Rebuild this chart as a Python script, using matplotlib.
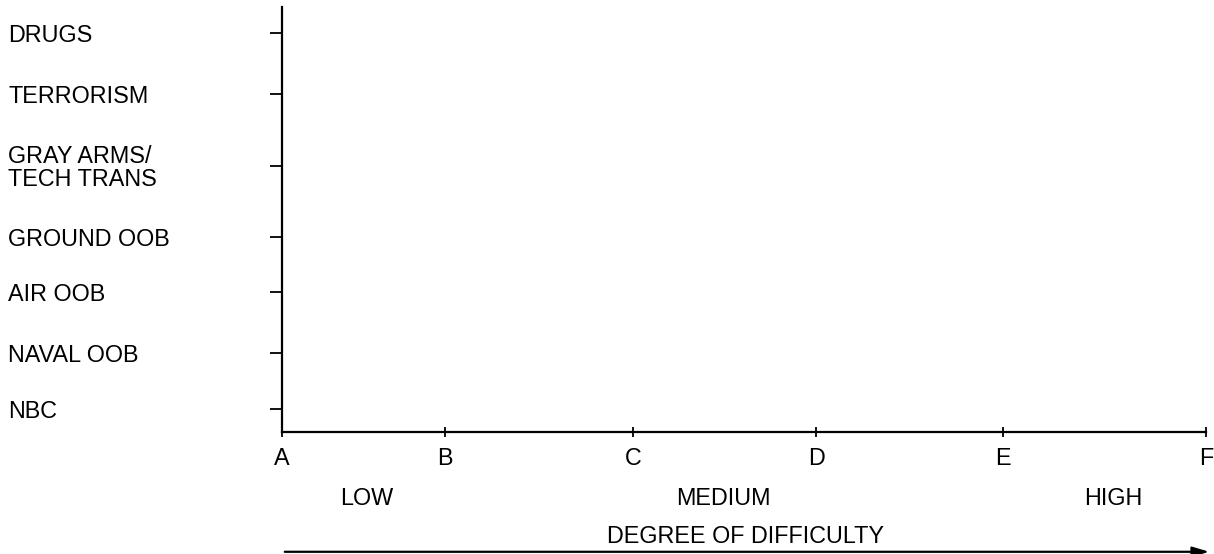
import matplotlib
matplotlib.use("Agg")
import matplotlib.pyplot as plt
from matplotlib.transforms import blended_transform_factory

plt.rcParams["font.family"] = ["Liberation Sans", "DejaVu Sans"]

# intelligence target categories, top to bottom, and where their ticks sit
categories = ["DRUGS", "TERRORISM", "GRAY ARMS/\nTECH TRANS", "GROUND OOB",
              "AIR OOB", "NAVAL OOB", "NBC"]
cat_pos = [399, 338, 266, 195, 140, 79, 23]

# difficulty scale
levels = ["A", "B", "C", "D", "E", "F"]
level_pos = [0, 0.88, 1.90, 2.89, 3.90, 5.0]

bands = ["LOW", "MEDIUM", "HIGH"]
band_pos = [0.46, 2.39, 4.50]

FS = 16.8

fig = plt.figure(figsize=(12.14, 5.54), dpi=100)
ax = fig.add_axes([0.2323, 0.2202, 0.7611, 0.7671])

ax.set_xlim(0, 5)
ax.set_ylim(0, 425)

for side in ["top", "right"]:
    ax.spines[side].set_visible(False)
for side in ["left", "bottom"]:
    ax.spines[side].set_linewidth(1.6)
    ax.spines[side].set_color("black")

ax.set_xticks(level_pos, labels=levels)
ax.tick_params(axis="x", direction="inout", length=7, width=1.3,
               pad=7, labelsize=FS)

ax.set_yticks(cat_pos, labels=[""] * len(cat_pos))
ax.tick_params(axis="y", direction="out", length=9, width=1.3)

# category names are left aligned at the figure edge
trans_y = blended_transform_factory(fig.transFigure, ax.transData)
for name, y in zip(categories, cat_pos):
    ax.text(0.007, y - 2, name, transform=trans_y, ha="left", va="center",
            fontsize=FS, linespacing=1.0)

trans_x = blended_transform_factory(ax.transData, fig.transFigure)
for name, x in zip(bands, band_pos):
    ax.text(x, 0.101, name, transform=trans_x, ha="center", va="center",
            fontsize=FS, clip_on=False)

ax.text(2.51, 0.031, "DEGREE OF DIFFICULTY", transform=trans_x,
        ha="center", va="center", fontsize=FS, clip_on=False)

fig.patches.append(matplotlib.patches.FancyArrowPatch(
    (282 / 1214, 0.004), (1212 / 1214, 0.004), transform=fig.transFigure,
    arrowstyle="-|>,head_length=10,head_width=3", lw=1.6, color="black",
    mutation_scale=1))

fig.savefig("out.png", dpi=100)
